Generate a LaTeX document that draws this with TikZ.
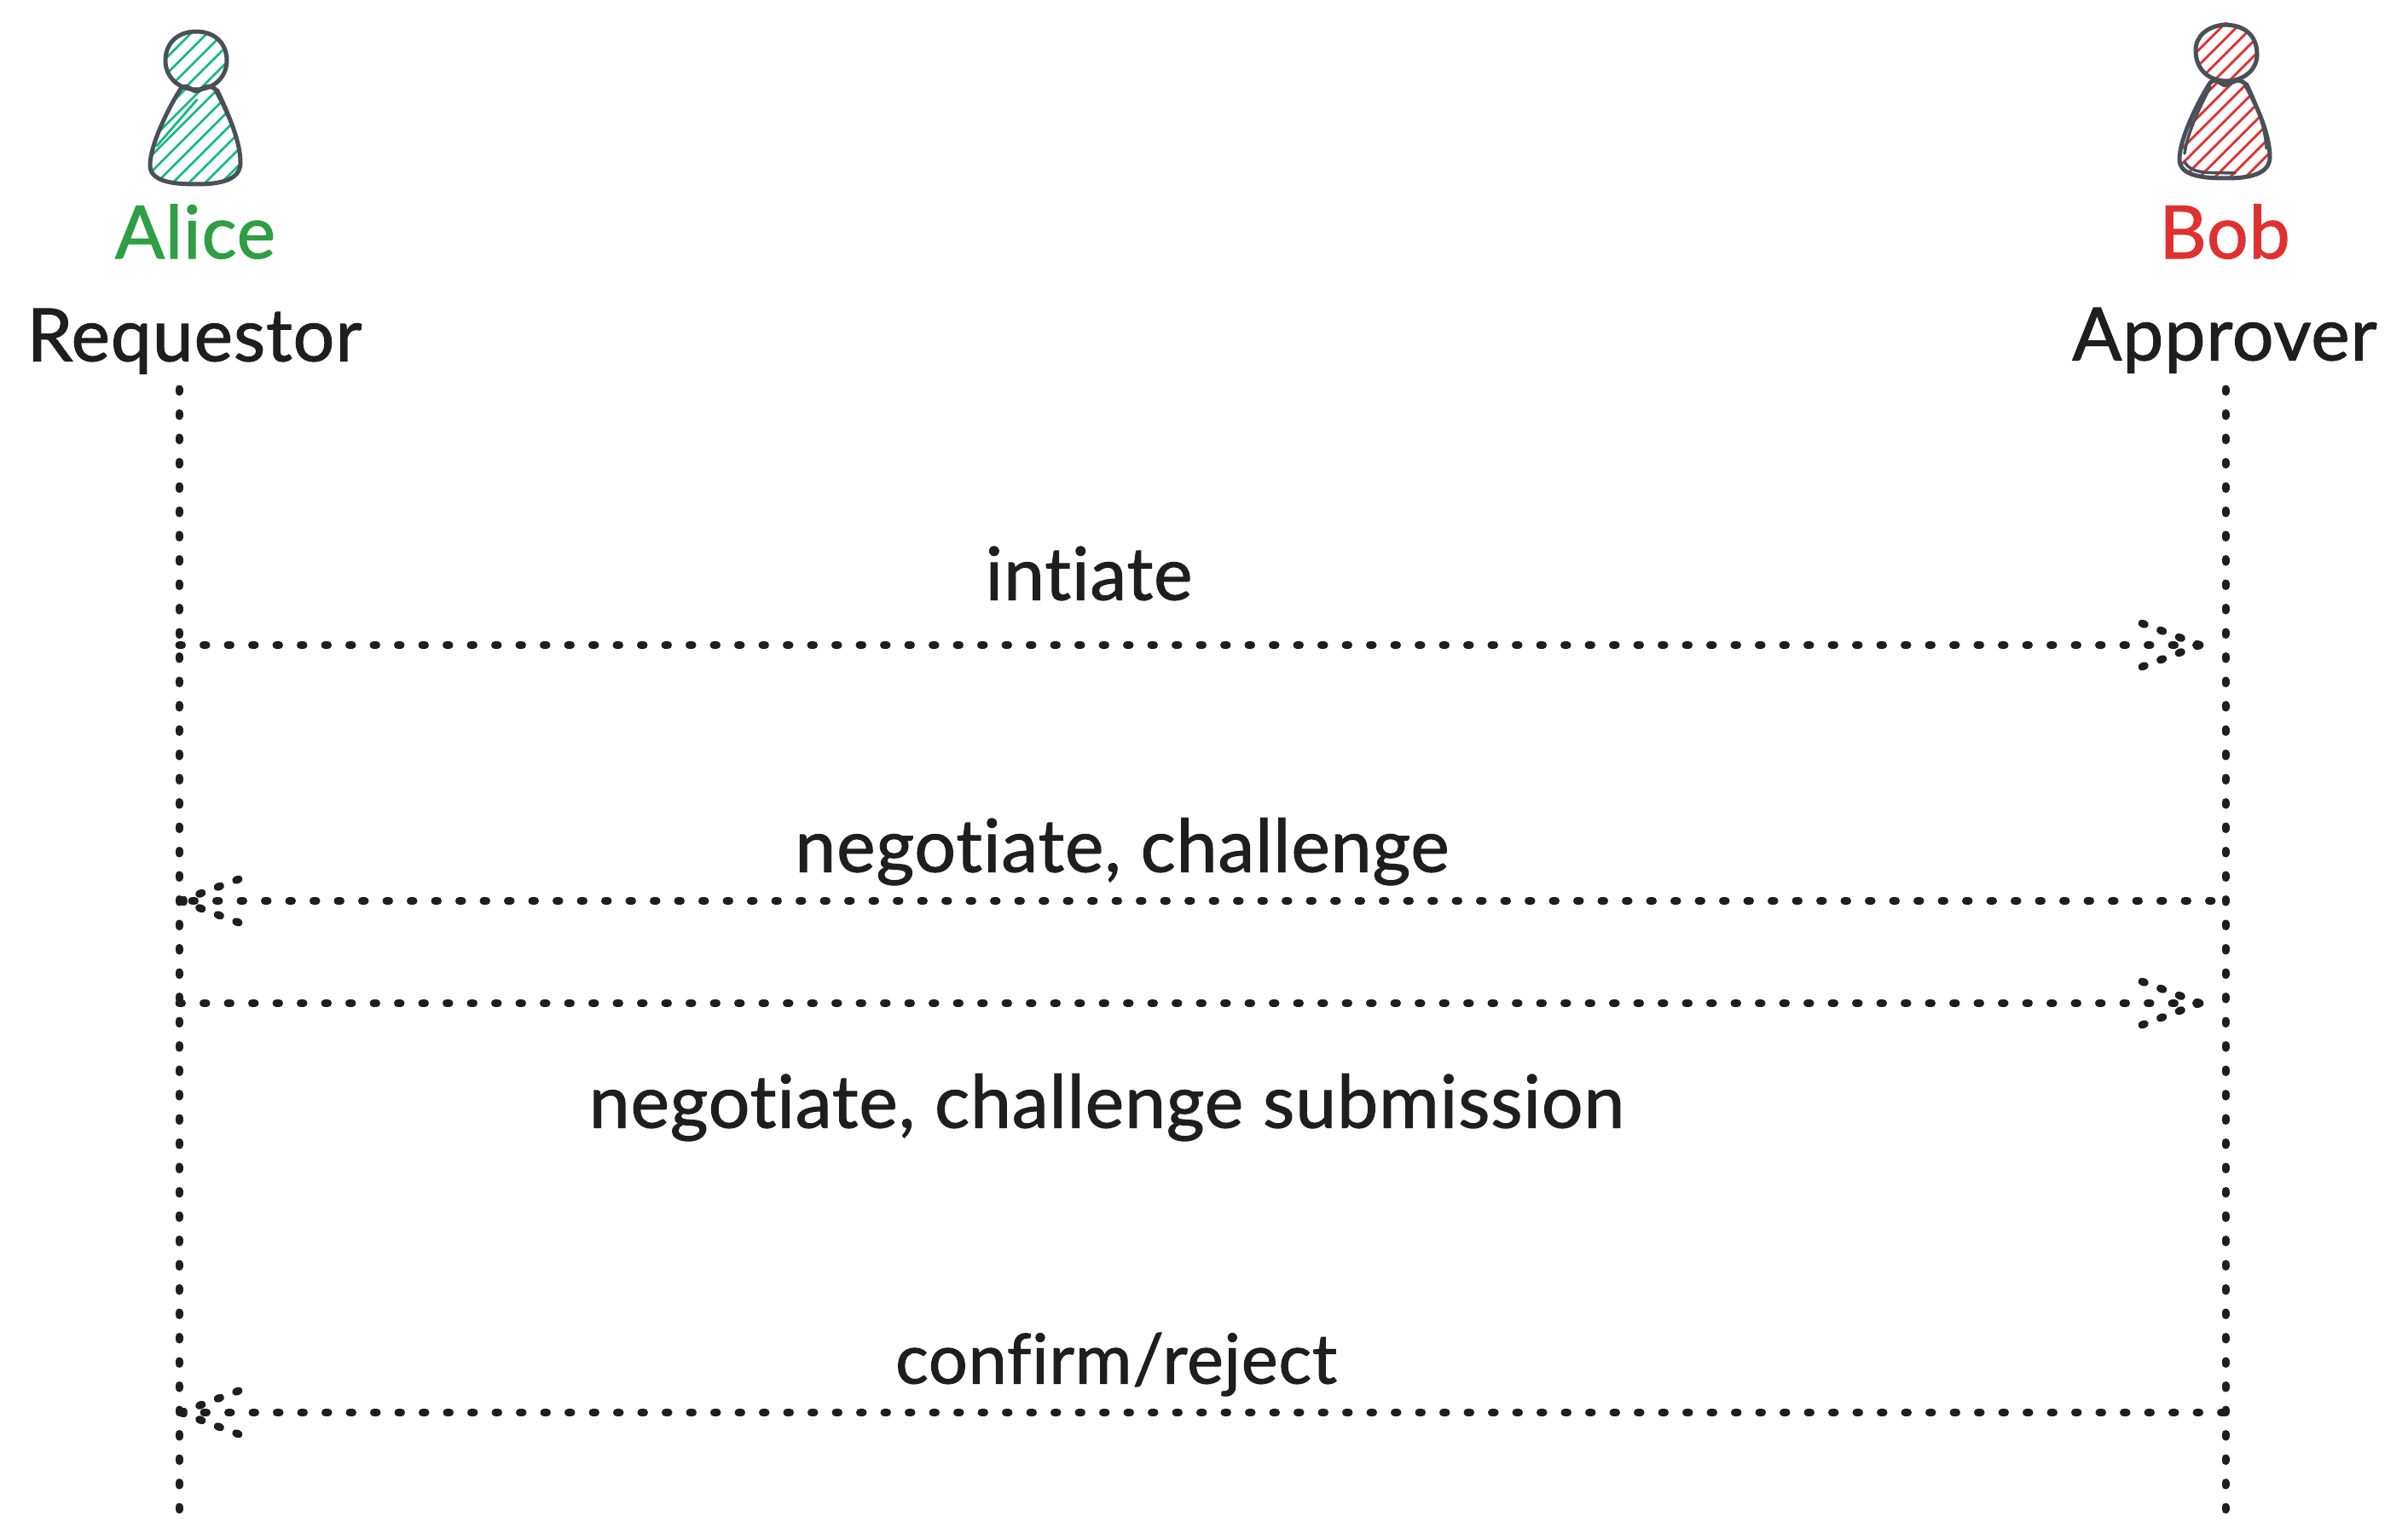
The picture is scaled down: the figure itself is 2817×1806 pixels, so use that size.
\documentclass[tikz,border=0pt]{standalone}
\usepackage{fontspec}
\usetikzlibrary{calc}
\setmainfont{Lato}[Ligatures=NoCommon,FakeBold=1.2,LetterSpace=1]
\definecolor{ink}{HTML}{1E1E1E}
\definecolor{sketch}{HTML}{495057}
\definecolor{alicegreen}{HTML}{2F9E44}
\definecolor{hatchgreen}{HTML}{12B886}
\definecolor{bobred}{HTML}{E03131}
\tikzset{
  x=1pt,y=-1pt,
  lbl/.style={text=ink,inner sep=0pt,anchor=base,font=\fontsize{86}{100}\selectfont},
  lblsmall/.style={lbl,font=\fontsize{81}{100}\selectfont},
  dotline/.style={draw=ink,line width=9pt,line cap=round,dash pattern=on 3.5pt off 25pt},
  barb/.style={draw=ink,line width=9pt,line cap=round,dash pattern=on 3.5pt off 19.5pt},
  outline/.style={draw=sketch,line width=5pt,line join=round,line cap=round},
  thinout/.style={draw=sketch,line width=3.5pt,line join=round,line cap=round},
  hatchline/.style={line width=2.8pt,line cap=round},
}
\newcommand{\bodypath}{(-19,35) .. controls (-32,55) and (-55,100) .. (-55,125) .. controls (-55,145) and (-25,147) .. (0,147) .. controls (25,147) and (51,143) .. (51,122) .. controls (51,95) and (35,60) .. (21,35) .. controls (10,28) and (5,38) .. (-1,38) .. controls (-6,38) and (-12,28) .. (-19,35) -- cycle}
\begin{document}
\begin{tikzpicture}
\useasboundingbox (0,0) rectangle (2817,1806);

% Alice figure
\begin{scope}[shift={(230,71)}]
  \begin{scope}
    \clip (0,0) circle (35);
    \foreach \k in {-3,...,3} \draw[hatchline,hatchgreen] (-60+\k*19,60) -- (60+\k*19,-60);
  \end{scope}
  \begin{scope}[shift={(1,-2)}]
    \clip \bodypath;
    \foreach \k in {-2,...,9} \draw[hatchline,hatchgreen] (-90+\k*19,150) -- (60+\k*19,0);
    \draw[hatchline,hatchgreen] (-47,102) -- (0,48);
  \end{scope}
  \draw[outline] (0,-34) .. controls (22,-34) and (36,-20) .. (36,0) .. controls (36,20) and (20,34) .. (0,34) .. controls (-20,34) and (-36,20) .. (-36,0) .. controls (-36,-20) and (-22,-34) .. (0,-34);
  \draw[outline,shift={(1,-2)}] \bodypath;
  \draw[thinout] (25,34) .. controls (37,58) and (49,88) .. (51,110);
\end{scope}

% Bob figure
\begin{scope}[shift={(2611,62)}]
  \begin{scope}
    \clip (0,0) circle (36);
    \foreach \k in {-3,...,3} \draw[hatchline,bobred] (-60+\k*18,60) -- (60+\k*18,-60);
  \end{scope}
  \begin{scope}
    \clip \bodypath;
    \foreach \k in {-2,...,9} \draw[hatchline,bobred] (-90+\k*18,150) -- (60+\k*18,0);
  \end{scope}
  \draw[outline] (-3,-33) .. controls (22,-33) and (36,-20) .. (36,2) .. controls (36,20) and (20,33) .. (0,33) .. controls (-20,33) and (-36,20) .. (-36,-3) .. controls (-36,-20) and (-22,-31) .. (-3,-33);
  \draw[outline] \bodypath;
  \draw[thinout] (-49,118) .. controls (-46,95) and (-32,65) .. (-19,40);
  \draw[thinout] (-49,128) .. controls (-40,143) and (-20,140) .. (10,141);
  \draw[thinout] (24,36) .. controls (36,60) and (46,90) .. (47,112);
\end{scope}

% Labels
\node[lbl,text=alicegreen] (alice) at (229,303) {Alice};
\node[lbl] (requestor) at (228,423.5) {Requestor};
\node[lbl,text=bobred] (bob) at (2609,303) {Bob};
\node[lbl] (approver) at (2609,422.5) {Approver};
\node[lbl] (m1) at (1277,703.5) {intiate};
\node[lbl] (m2) at (1316,1022.5) {negotiate, challenge};
\node[lbl] (m3) at (1298,1322.5) {negotiate, challenge submission};
\node[lblsmall] (m4) at (1309,1622.5) {confirm/reject};

% Lifelines
\coordinate (atop) at (210,456);
\coordinate (abot) at (210,1772);
\coordinate (btop) at (2610,456);
\coordinate (bbot) at (2610,1772);
\draw[dotline] (atop) -- (abot);
\draw[dotline] (btop) -- (bbot);

% Anchors on the lifelines
\coordinate (a1) at (210,756.5);
\coordinate (a2) at (212,1056.5);
\coordinate (a3) at (210,1176.5);
\coordinate (a4) at (212,1656.5);
\coordinate (b1) at (2580,756.5);
\coordinate (b2) at (2594,1056.5);
\coordinate (b3) at (2580,1176.5);
\coordinate (b4) at (2608,1656.5);

% Messages
\draw[dotline] (a1) -- (b1);
\draw[dotline] (b2) -- (a2);
\draw[dotline] (a3) -- (b3);
\draw[dotline] (b4) -- (a4);

% Arrowheads
\foreach \tip/\dx in {b1/-1,a2/1,b3/-1,a4/1}{
  \draw[barb] ($(\tip)+(\dx*68,-25.5)$) -- (\tip);
  \draw[barb] ($(\tip)+(\dx*68,25.5)$) -- (\tip);
}
\end{tikzpicture}
\end{document}
